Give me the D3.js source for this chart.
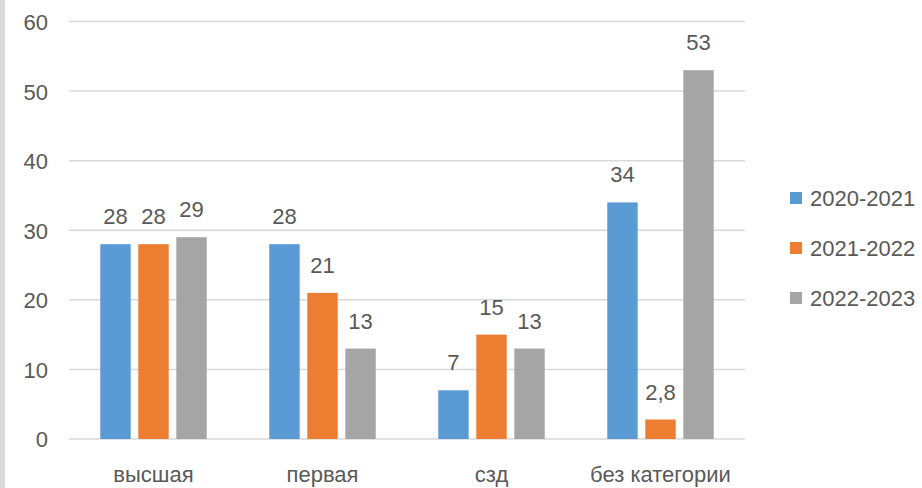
<!DOCTYPE html>
<html>
<head>
<meta charset="utf-8">
<script src="https://cdn.jsdelivr.net/npm/d3@7"></script>
<style>
    body { margin: 0; background: #fff; }
    text { font-family: "Liberation Sans", Arial, sans-serif; fill: #595959; }
</style>
</head>
<body>
<div id="chart"></div>
<script>
// data
const categories = ["высшая", "первая", "сзд", "без категории"];
const seriesNames = ["2020-2021", "2021-2022", "2022-2023"];
const values2020 = [28, 28, 7, 34];
const values2021 = [28, 21, 15, 2.8];
const values2022 = [29, 13, 13, 53];
const yTicks = [0, 10, 20, 30, 40, 50, 60];

const seriesValues = [values2020, values2021, values2022];
const colors = ["#5b9bd5", "#ed7d31", "#a5a5a5"];

// geometry
let width = 922, height = 488;
let plot = { left: 69, right: 745, top: 21.5, bottom: 439 };

let svg = d3.select("#chart")
    .append("svg")
    .attr("width", width)
    .attr("height", height);

// left frame strip
svg.append("rect")
    .attr("x", 0).attr("y", 0)
    .attr("width", 5).attr("height", height)
    .attr("fill", "#d9d9d9");

let yScale = d3.scaleLinear()
    .domain([0, 60])
    .range([plot.bottom, plot.top]);

let x0 = d3.scaleBand()
    .domain(categories)
    .range([plot.left, plot.right])
    .paddingInner(0.37)
    .paddingOuter(0.185);

let x1 = d3.scaleBand()
    .domain(seriesNames)
    .range([0, x0.bandwidth()])
    .paddingInner(0.2);

// gridlines
svg.append("g")
    .selectAll("line")
    .data(yTicks)
    .enter()
    .append("line")
    .attr("x1", plot.left)
    .attr("x2", plot.right)
    .attr("y1", d => yScale(d))
    .attr("y2", d => yScale(d))
    .attr("stroke", "#d9d9d9")
    .attr("stroke-width", 1.5);

// y axis labels
let yAxis = svg.append("g")
    .attr("transform", "translate(" + plot.left + ",0)")
    .call(d3.axisLeft(yScale).tickValues(yTicks).tickSize(0).tickPadding(21));
yAxis.select(".domain").remove();
yAxis.selectAll("text")
    .attr("font-size", "22px")
    .attr("font-family", null)
    .attr("fill", "#595959")
    .attr("dy", "0.36em");

// bars
let groups = svg.append("g")
    .selectAll("g")
    .data(categories)
    .enter()
    .append("g")
    .attr("transform", d => "translate(" + x0(d) + ",0)");

groups.selectAll("rect")
    .data((d, i) => seriesNames.map((s, j) => ({ series: s, value: seriesValues[j][i], idx: j })))
    .enter()
    .append("rect")
    .attr("x", d => x1(d.series))
    .attr("y", d => yScale(d.value))
    .attr("width", x1.bandwidth())
    .attr("height", d => yScale(0) - yScale(d.value))
    .attr("fill", d => colors[d.idx]);

// value labels
groups.selectAll(".val")
    .data((d, i) => seriesNames.map((s, j) => ({ series: s, value: seriesValues[j][i] })))
    .enter()
    .append("text")
    .attr("class", "val")
    .attr("x", d => x1(d.series) + x1.bandwidth() / 2)
    .attr("y", d => yScale(d.value) - 20)
    .attr("text-anchor", "middle")
    .attr("font-size", "22px")
    .text(d => String(d.value).replace(".", ","));

// x axis labels
let xAxis = svg.append("g")
    .attr("transform", "translate(0," + plot.bottom + ")")
    .call(d3.axisBottom(x0).tickSize(0).tickPadding(27));
xAxis.select(".domain").remove();
xAxis.selectAll("text")
    .attr("font-size", "22px")
    .attr("font-family", null)
    .attr("fill", "#595959");

// legend
let legend = svg.append("g")
    .selectAll("g")
    .data(seriesNames)
    .enter()
    .append("g")
    .attr("transform", (d, i) => "translate(790," + (198 + i * 50) + ")");

legend.append("rect")
    .attr("x", 0).attr("y", -6)
    .attr("width", 12).attr("height", 12)
    .attr("fill", (d, i) => colors[i]);

legend.append("text")
    .attr("x", 20)
    .attr("dy", "0.36em")
    .attr("font-size", "22px")
    .text(d => d);
</script>
</body>
</html>
